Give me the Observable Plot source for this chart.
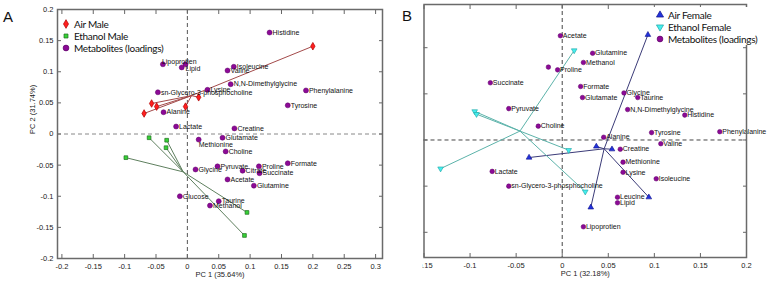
<!DOCTYPE html>
<html>
<head>
<meta charset="utf-8">
<script src="https://cdn.jsdelivr.net/npm/d3@7"></script>
<script src="https://cdn.jsdelivr.net/npm/@observablehq/plot@0.6"></script>
<style>
  body { margin: 0; background: #fff; }
  #wrap { position: relative; width: 767px; height: 284px; overflow: hidden; font-family: "Liberation Sans", Arial, sans-serif; }
  #panelA { position: absolute; left: 0; top: 0; width: 388px; height: 284px; }
  #panelB { position: absolute; left: 422px; top: 0; width: 345px; height: 284px; overflow: hidden; }
  .tag { position: absolute; font-size: 15px; color: #111; line-height: 15px; }
  .legend { position: absolute; font-family: Lato, "Open Sans", sans-serif; font-size: 10px; letter-spacing: -0.3px; color: #111; }
  .legend .row { display: flex; align-items: center; height: 12px; white-space: nowrap; }
  .legend svg { width: 10px; height: 10px; margin-right: 3px; overflow: visible; }
</style>
</head>
<body>
<div id="wrap">
  <div id="panelA"></div>
  <div id="panelB"></div>
  <div class="tag" style="left:3px;top:9px;">A</div>
  <div class="tag" style="left:402px;top:8px;">B</div>
  <div class="legend" id="legendA" style="left:61px;top:18px;"></div>
  <div class="legend" id="legendB" style="left:653px;top:7px;width:114px;height:38px;background:#fff;padding:2px 0 0 2px;box-sizing:border-box;"></div>
</div>
<script>
// ---- Panel A: male PCA scores and metabolite loadings ----
const metabolitesA = ["Histidine", "Isoleucine", "Valine", "N,N-Dimethylglycine", "Phenylalanine", "Tyrosine",
  "Lysine", "Creatine", "sn-Glycero-3-phosphocholine", "Alanine", "Lactate", "Lipoprotien", "", "Lipid",
  "Glutamate", "Methionine", "Choline", "Glycine", "Pyruvate", "Citrate", "Proline", "Formate",
  "Succinate", "Acetate", "Glutamine", "Glucose", "Taurine", "Methanol"];
const metabolitesA_pc1 = [0.131, 0.074, 0.064, 0.069, 0.189, 0.160, 0.032, 0.075, -0.047, -0.038, -0.018, -0.039, -0.009, -0.003,
  0.056, 0.018, 0.061, 0.013, 0.048, 0.088, 0.114, 0.160, 0.115, 0.064, 0.106, -0.012, 0.050, 0.036];
const metabolitesA_pc2 = [0.163, 0.108, 0.102, 0.080, 0.070, 0.046, 0.071, 0.009, 0.067, 0.035, 0.012, 0.112, 0.107, 0.112,
  -0.006, -0.009, -0.028, -0.057, -0.052, -0.059, -0.052, -0.047, -0.063, -0.073, -0.083, -0.100, -0.108, -0.115];

const airMale_pc1 = [-0.057, -0.049, -0.069, -0.003, 0.018, 0.200];
const airMale_pc2 = [0.049, 0.044, 0.033, 0.044, 0.059, 0.141];
const ethanolMale_pc1 = [-0.061, -0.033, -0.034, -0.098, 0.095, 0.091];
const ethanolMale_pc2 = [-0.006, -0.010, -0.022, -0.038, -0.126, -0.163];

const xTicksA = [-0.2, -0.15, -0.1, -0.05, 0, 0.05, 0.1, 0.15, 0.2, 0.25, 0.3];
const yTicksA = [-0.2, -0.15, -0.1, -0.05, 0, 0.05, 0.1, 0.15, 0.2];

// ---- Panel B: female PCA scores and metabolite loadings ----
const metabolitesB = ["Acetate", "Proline", "", "Succinate", "Pyruvate", "Choline", "Glutamine", "Methanol",
  "Formate", "Glutamate", "Glycine", "Taurine", "N,N-Dimethylglycine", "Histidine", "Tyrosine", "Phenylalanine",
  "Alanine", "Valine", "Creatine", "Methionine", "Lysine", "Isoleucine", "Leucine", "Lipid", "Lipoprotien",
  "Lactate", "sn-Glycero-3-phosphocholine"];
const metabolitesB_pc1 = [-0.002, -0.005, -0.015, -0.078, -0.058, -0.026, 0.033, 0.023, 0.020, 0.022, 0.067, 0.082,
  0.071, 0.133, 0.097, 0.171, 0.045, 0.107, 0.063, 0.066, 0.066, 0.102, 0.060, 0.060, 0.023, -0.076, -0.058];
const metabolitesB_pc2 = [0.113, 0.076, 0.079, 0.062, 0.034, 0.015, 0.094, 0.084, 0.058, 0.046, 0.051, 0.046,
  0.033, 0.027, 0.008, 0.009, 0.003, -0.004, -0.010, -0.024, -0.035, -0.042, -0.062, -0.068, -0.094, -0.034, -0.050];

const airFemale_pc1 = [0.093, -0.036, 0.037, 0.054, 0.094, 0.031];
const airFemale_pc2 = [0.114, -0.019, -0.007, -0.010, -0.062, -0.073];
const ethanolFemale_pc1 = [0.013, -0.095, -0.093, -0.132, 0.007, 0.025];
const ethanolFemale_pc2 = [0.097, 0.031, 0.028, -0.031, -0.011, -0.056];

const xTicksB = [-0.15, -0.1, -0.05, 0, 0.05, 0.1, 0.15, 0.2];
const yTicksB = [-0.1, -0.05, 0, 0.05, 0.1];

// labels that sit above / below their point instead of to the right
const labelsAbove = ["Lipoprotien"];
const labelsBelowA = ["Lipid", "Methionine"];

// ---- helpers ----
const zip = (names, xs, ys) => xs.map((x, i) => ({name: names ? names[i] : "", x, y: ys[i]}));
// each score is joined to its group centroid
function star(points) {
  const cx = d3.mean(points, d => d.x), cy = d3.mean(points, d => d.y);
  return points.map(d => ({...d, cx, cy}));
}
const fmt = d => String(Math.round(d * 100) / 100);
const blank = () => "";

const purple = "#8c0a96";
const purpleEdge = "#5c0066";

function axes(xTicks, yTicks, xLabel, yLabel) {
  const marks = [
    Plot.axisX({anchor: "bottom", ticks: xTicks, tickSize: -4, tickPadding: 9, tickFormat: fmt, label: null, stroke: "#666"}),
    Plot.axisX({anchor: "top", ticks: xTicks, tickSize: -4, tickFormat: blank, label: null, stroke: "#666"}),
    Plot.axisY({anchor: "right", ticks: yTicks, tickSize: -4, tickFormat: blank, label: null, stroke: "#666"}),
    Plot.axisY({anchor: "left", ticks: yTicks, tickSize: -4, tickPadding: 8,
      tickFormat: yLabel ? fmt : blank, label: null, stroke: "#666"}),
    Plot.text([xLabel], {frameAnchor: "bottom", dy: 18, fontSize: 7.5, fill: "#222"})
  ];
  if (yLabel) {
    marks.push(Plot.text([yLabel], {frameAnchor: "left", dx: -25, rotate: -90, fontSize: 7.5, fill: "#222"}));
  }
  return marks;
}

// ---- Panel A ----
const metA = zip(metabolitesA, metabolitesA_pc1, metabolitesA_pc2);
const airMale = star(zip(null, airMale_pc1, airMale_pc2));
const ethanolMale = star(zip(null, ethanolMale_pc1, ethanolMale_pc2));

const plotA = Plot.plot({
  width: 388, height: 284,
  marginLeft: 57, marginRight: 6, marginTop: 9, marginBottom: 26,
  x: {domain: [-0.207, 0.311]},
  y: {domain: [-0.2, 0.2]},
  style: {fontFamily: "'Liberation Sans', Arial, sans-serif", fontSize: "7.5px", color: "#222", background: "transparent", overflow: "visible"},
  marks: [
    Plot.ruleX([0], {stroke: "#555", strokeDasharray: "4,3", strokeWidth: 1}),
    Plot.ruleY([0], {stroke: "#888", strokeDasharray: "4,3", strokeWidth: 1}),
    Plot.link(airMale, {x1: "cx", y1: "cy", x2: "x", y2: "y", stroke: "#a34a4a", strokeWidth: 1}),
    Plot.link(ethanolMale, {x1: "cx", y1: "cy", x2: "x", y2: "y", stroke: "#5f805f", strokeWidth: 1}),
    Plot.dot(metA, {x: "x", y: "y", r: 2.5, fill: purple, stroke: purpleEdge, strokeWidth: 0.5}),
    Plot.dot(airMale, {x: "x", y: "y", symbol: "diamond", r: 2.3, fill: "#ff1f1f", stroke: "#b00000", strokeWidth: 0.7}),
    Plot.dot(ethanolMale, {x: "x", y: "y", symbol: "square", r: 2.1, fill: "#36d236", stroke: "#1f6f1f", strokeWidth: 0.7}),
    Plot.text(metA.filter(d => d.name && !labelsAbove.includes(d.name) && !labelsBelowA.includes(d.name)),
      {x: "x", y: "y", text: "name", textAnchor: "start", dx: 3, fontSize: 7, fill: "#111"}),
    Plot.text(metA.filter(d => labelsAbove.includes(d.name)),
      {x: "x", y: "y", text: "name", textAnchor: "start", lineAnchor: "bottom", dx: -1, dy: 0, fontSize: 7, fill: "#111"}),
    Plot.text(metA.filter(d => labelsBelowA.includes(d.name)),
      {x: "x", y: "y", text: "name", textAnchor: "start", lineAnchor: "top", dx: 0, dy: 2, fontSize: 7, fill: "#111"}),
    ...axes(xTicksA, yTicksA, "PC 1 (35.64%)", "PC 2 (31.74%)"),
    Plot.frame({stroke: "#6a6a6a", strokeWidth: 1.5})
  ]
});
document.getElementById("panelA").append(plotA);

// ---- Panel B ----
const metB = zip(metabolitesB, metabolitesB_pc1, metabolitesB_pc2);
const airFemale = star(zip(null, airFemale_pc1, airFemale_pc2));
const ethanolFemale = star(zip(null, ethanolFemale_pc1, ethanolFemale_pc2));

const plotB = Plot.plot({
  width: 345, height: 284,
  marginLeft: 1.5, marginRight: 21, marginTop: 4, marginBottom: 27,
  x: {domain: [-0.15, 0.2]},
  y: {domain: [-0.1273, 0.1468]},
  style: {fontFamily: "'Liberation Sans', Arial, sans-serif", fontSize: "7.5px", color: "#222", background: "transparent", overflow: "visible"},
  marks: [
    Plot.ruleX([0], {stroke: "#444", strokeDasharray: "4,3", strokeWidth: 1}),
    Plot.ruleY([0], {stroke: "#444", strokeDasharray: "4,3", strokeWidth: 1}),
    Plot.link(airFemale, {x1: "cx", y1: "cy", x2: "x", y2: "y", stroke: "#3b3b78", strokeWidth: 1}),
    Plot.link(ethanolFemale, {x1: "cx", y1: "cy", x2: "x", y2: "y", stroke: "#5cb3aa", strokeWidth: 1}),
    Plot.dot(metB, {x: "x", y: "y", r: 2.3, fill: purple, stroke: purpleEdge, strokeWidth: 0.5}),
    Plot.dot(airFemale, {x: "x", y: "y", symbol: "triangle", r: 2.1, fill: "#2233dd", stroke: "#11118a", strokeWidth: 0.6}),
    Plot.dot(ethanolFemale, {x: "x", y: "y", symbol: "triangle", rotate: 180, r: 2.1, fill: "#45eeee", stroke: "#1fa5a5", strokeWidth: 0.6}),
    Plot.text(metB.filter(d => d.name), {x: "x", y: "y", text: "name", textAnchor: "start", dx: 2.5, fontSize: 7, fill: "#111"}),
    ...axes(xTicksB, yTicksB, "PC 1 (32.18%)", null),
    Plot.frame({stroke: "#6a6a6a", strokeWidth: 1.5})
  ]
});
document.getElementById("panelB").append(plotB);

// ---- Legends ----
function legend(el, items) {
  const box = d3.select(el);
  for (const it of items) {
    const row = box.append("div").attr("class", "row");
    const svg = row.append("svg").attr("viewBox", "-5 -5 10 10");
    svg.append("path")
      .attr("d", d3.symbol(it.symbol, it.size)())
      .attr("transform", it.rotate ? `rotate(${it.rotate})` : null)
      .attr("fill", it.fill).attr("stroke", it.stroke).attr("stroke-width", 0.7);
    row.append("span").text(it.label);
  }
}
legend("#legendA", [
  {label: "Air Male", symbol: d3.symbolDiamond, size: 22, fill: "#ff1f1f", stroke: "#b00000"},
  {label: "Ethanol Male", symbol: d3.symbolSquare, size: 16, fill: "#36d236", stroke: "#1f6f1f"},
  {label: "Metabolites (loadings)", symbol: d3.symbolCircle, size: 26, fill: purple, stroke: purpleEdge}
]);
legend("#legendB", [
  {label: "Air Female", symbol: d3.symbolTriangle, size: 22, fill: "#2233dd", stroke: "#11118a"},
  {label: "Ethanol Female", symbol: d3.symbolTriangle, size: 22, rotate: 180, fill: "#45eeee", stroke: "#1fa5a5"},
  {label: "Metabolites (loadings)", symbol: d3.symbolCircle, size: 26, fill: purple, stroke: purpleEdge}
]);
</script>
</body>
</html>
